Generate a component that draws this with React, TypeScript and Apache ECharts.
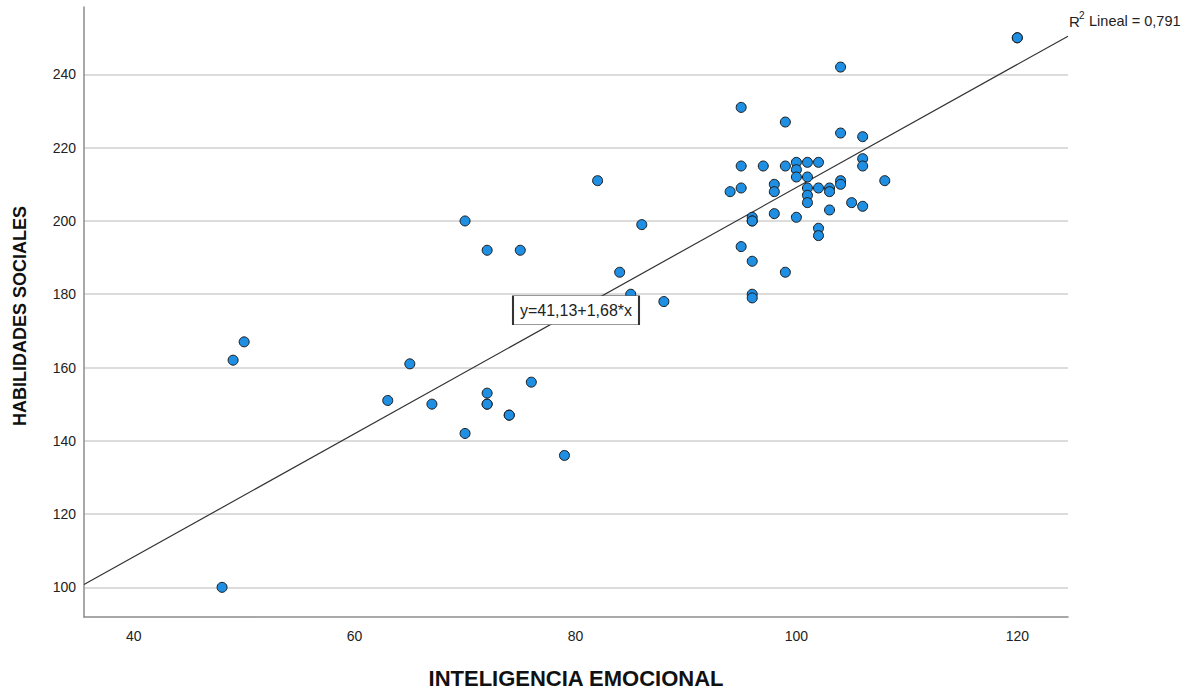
import React, { useEffect, useRef } from "react";
import * as echarts from "echarts";

// Scatter data
const inteligenciaEmocional = [
  48, 49, 50, 63, 65, 67, 70, 70, 72, 72, 72, 72, 74, 74, 75, 76, 79, 82, 84, 85,
  86, 88, 94, 95, 95, 95, 95, 96, 96, 96, 96, 96, 96, 97, 98, 98, 98, 99, 99, 99,
  100, 100, 100, 100, 101, 101, 101, 101, 101, 102, 102, 102, 102, 103, 103, 103,
  104, 104, 104, 104, 105, 106, 106, 106, 106, 108, 120, 120,
];
const habilidadesSociales = [
  100, 162, 167, 151, 161, 150, 142, 200, 192, 153, 150, 150, 147, 147, 192, 156, 136, 211, 186, 180,
  199, 178, 208, 231, 215, 209, 193, 201, 200, 200, 189, 180, 179, 215, 210, 208, 202, 227, 215, 186,
  216, 214, 212, 201, 216, 212, 209, 207, 205, 216, 209, 198, 196, 209, 208, 203,
  242, 224, 211, 210, 205, 223, 217, 215, 204, 211, 250, 250,
];

// Fit line as shown in the chart
const intercept = 41.13;
const slope = 1.68;
const equationLabel = "y=41,13+1,68*x";
const r2Label = " Lineal = 0,791";

// Axis extents
const xMin = 35.5;
const xMax = 124.59;
const yMin = 91.9;
const yMax = 258.4;

const xTitle = "INTELIGENCIA EMOCIONAL";
const yTitle = "HABILIDADES SOCIALES";

const FONT = "'Liberation Sans', Arial, sans-serif";

export default function App() {
  const ref = useRef<HTMLDivElement>(null);

  useEffect(() => {
    if (!ref.current) return;
    const chart = echarts.init(ref.current, undefined, { renderer: "svg" });
    const points = inteligenciaEmocional.map((x, i) => [x, habilidadesSociales[i]]);
    const lineData = [
      [xMin, intercept + slope * xMin],
      [xMax, intercept + slope * xMax],
    ];
    const midX = (xMin + xMax) / 2;
    const midY = intercept + slope * midX;

    chart.setOption({
      animation: false,
      backgroundColor: "#ffffff",
      grid: { left: 84, right: 127, top: 7, bottom: 72, containLabel: false },
      xAxis: {
        type: "value",
        min: xMin,
        max: xMax,
        splitNumber: 5,
        axisLine: { show: true, onZero: false, lineStyle: { color: "#8c8c8c", width: 1.5 } },
        axisTick: { show: false },
        splitLine: { show: false },
        axisLabel: {
          margin: 12,
          color: "#222",
          fontSize: 14,
          fontFamily: FONT,
          formatter: (v: number) => (Math.abs(v % 20) < 1e-6 ? String(v) : ""),
        },
      },
      yAxis: {
        type: "value",
        min: yMin,
        max: yMax,
        splitNumber: 8,
        axisLine: { show: true, onZero: false, lineStyle: { color: "#8c8c8c", width: 1.5 } },
        axisTick: { show: false },
        splitLine: {
          show: true,
          showMinLine: false,
          showMaxLine: false,
          lineStyle: { color: "#d0d0d0", width: 1.5 },
        },
        axisLabel: {
          margin: 8,
          color: "#222",
          fontSize: 14,
          fontFamily: FONT,
          formatter: (v: number) => (Math.abs(v % 20) < 1e-6 ? String(v) : ""),
        },
      },
      series: [
        {
          type: "line",
          data: lineData,
          showSymbol: false,
          symbol: "none",
          silent: true,
          z: 2,
          lineStyle: { color: "#333333", width: 1.2 },
          markPoint: {
            silent: true,
            symbol: "rect",
            symbolSize: [126, 29],
            itemStyle: { color: "#ffffff", borderColor: "#333333", borderWidth: 1 },
            label: {
              show: true,
              position: "inside",
              formatter: equationLabel,
              color: "#222",
              fontSize: 16,
              fontFamily: FONT,
            },
            data: [{ coord: [midX, midY] }],
          },
        },
        {
          type: "scatter",
          data: points,
          z: 3,
          symbol: "circle",
          symbolSize: 10,
          itemStyle: { color: "#1e8fe3", borderColor: "#1a1a1a", borderWidth: 1, opacity: 1 },
        },
      ],
      graphic: [
        {
          type: "text",
          x: 576,
          y: 678,
          style: {
            text: xTitle,
            fontSize: 22,
            fontWeight: "bold",
            fontFamily: FONT,
            fill: "#111",
            textAlign: "center",
            textVerticalAlign: "middle",
          },
        },
        {
          type: "text",
          x: 20,
          y: 316,
          rotation: Math.PI / 2,
          style: {
            text: yTitle,
            fontSize: 18,
            fontWeight: "bold",
            fontFamily: FONT,
            fill: "#111",
            textAlign: "center",
            textVerticalAlign: "middle",
          },
        },
        {
          type: "text",
          x: 1069,
          y: 21,
          style: {
            text: "R",
            fontSize: 15,
            fontFamily: FONT,
            fill: "#222",
            textAlign: "left",
            textVerticalAlign: "middle",
          },
        },
        {
          type: "text",
          x: 1079,
          y: 15,
          style: {
            text: "2",
            fontSize: 10,
            fontFamily: FONT,
            fill: "#222",
            textAlign: "left",
            textVerticalAlign: "middle",
          },
        },
        {
          type: "text",
          x: 1085,
          y: 21,
          style: {
            text: r2Label,
            fontSize: 14.5,
            fontFamily: FONT,
            fill: "#222",
            textAlign: "left",
            textVerticalAlign: "middle",
          },
        },
      ],
    });

    return () => chart.dispose();
  }, []);

  return (
    <div
      ref={ref}
      style={{ position: "fixed", left: 0, top: 0, width: 1195, height: 689, background: "#fff" }}
    />
  );
}
